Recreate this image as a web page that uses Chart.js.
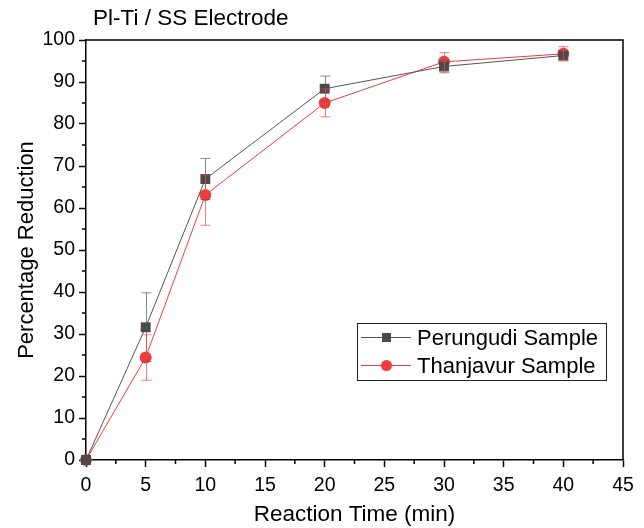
<!DOCTYPE html>
<html>
<head>
<meta charset="utf-8">
<script src="https://cdn.jsdelivr.net/npm/chart.js@4"></script>
<style>
  html, body { margin: 0; padding: 0; background: #fff; }
  #wrap { width: 644px; height: 528px; }
</style>
</head>
<body>
<div id="wrap"><canvas id="reductionChart" width="644" height="528"></canvas></div>
<script>
// data
const times = [0, 5, 10, 20, 30, 40];
const perungudi = [0, 31.6, 66.9, 88.4, 93.7, 96.3];
const perungudiErrUp = [0, 8.2, 4.9, 3.0, 1.5, 1.0];
const perungudiErrDown = [0, 8.2, 4.9, 3.0, 1.5, 1.0];
const thanjavur = [0, 24.4, 63.1, 85.0, 94.8, 96.7];
const thanjavurErrUp = [0, 5.4, 4.8, 3.3, 2.2, 1.7];
const thanjavurErrDown = [0, 5.4, 7.2, 3.3, 2.2, 1.7];
const seriesNames = ['Perungudi Sample', 'Thanjavur Sample'];
const xTicks = [0, 45, 5];   // min, max, step
const yTicks = [0, 100, 10];

const FONT = "'Liberation Sans', Arial, sans-serif";
const grayLine = '#555555', grayFill = '#4a4a4a', grayErr = 'rgba(90,90,90,0.7)';
const redLine = '#f03c3c', redFill = '#ef3b3b', redErr = 'rgba(238,70,70,0.7)';

const errors = [
    { up: perungudiErrUp, down: perungudiErrDown, color: grayErr },
    { up: thanjavurErrUp, down: thanjavurErrDown, color: redErr }
];

// error bars, frame, minor ticks, title, legend
const extras = {
    id: 'extras',
    afterDatasetsDraw(chart) {
        const ctx = chart.ctx, xs = chart.scales.x, ys = chart.scales.y;
        ctx.save();
        ctx.lineWidth = 1;
        errors.forEach((e, di) => {
            const vals = chart.data.datasets[di].data;
            ctx.strokeStyle = e.color;
            vals.forEach((p, i) => {
                if (!e.up[i] && !e.down[i]) return;
                const px = Math.round(xs.getPixelForValue(p.x)) + 0.5;
                const top = ys.getPixelForValue(p.y + e.up[i]);
                const bot = ys.getPixelForValue(p.y - e.down[i]);
                ctx.beginPath();
                ctx.moveTo(px, top); ctx.lineTo(px, bot);
                ctx.moveTo(px - 5, top); ctx.lineTo(px + 5, top);
                ctx.moveTo(px - 5, bot); ctx.lineTo(px + 5, bot);
                ctx.stroke();
            });
        });
        ctx.restore();
    },
    afterDraw(chart) {
        const ctx = chart.ctx, a = chart.chartArea, xs = chart.scales.x, ys = chart.scales.y;
        ctx.save();
        ctx.strokeStyle = '#000';
        ctx.lineWidth = 1.5;
        ctx.beginPath();
        ctx.moveTo(a.left, a.top); ctx.lineTo(a.right, a.top); ctx.lineTo(a.right, a.bottom);
        // minor ticks
        for (let v = xTicks[0] + xTicks[2] / 2; v < xTicks[1]; v += xTicks[2]) {
            const px = xs.getPixelForValue(v);
            ctx.moveTo(px, a.bottom); ctx.lineTo(px, a.bottom + 4);
        }
        for (let v = yTicks[0] + yTicks[2] / 2; v < yTicks[1]; v += yTicks[2]) {
            const py = ys.getPixelForValue(v);
            ctx.moveTo(a.left, py); ctx.lineTo(a.left - 4, py);
        }
        ctx.stroke();

        // title
        ctx.fillStyle = '#000';
        ctx.font = '22.5px ' + FONT;
        ctx.textBaseline = 'middle';
        ctx.textAlign = 'left';
        ctx.fillText('Pl-Ti / SS Electrode', 93, 19);

        // legend box
        const lx = 357, ly = 323, lw = 249, lh = 57;
        ctx.lineWidth = 1;
        ctx.strokeStyle = '#222';
        ctx.strokeRect(lx + 0.5, ly + 0.5, lw, lh);
        const rows = [
            { name: seriesNames[0], line: grayLine, fill: grayFill, shape: 'rect' },
            { name: seriesNames[1], line: redLine, fill: redFill, shape: 'circle' }
        ];
        rows.forEach((r, i) => {
            const cy = ly + 14.5 + i * 28;
            ctx.strokeStyle = r.line;
            ctx.lineWidth = 1;
            ctx.beginPath();
            ctx.moveTo(lx + 4, cy); ctx.lineTo(lx + 54, cy);
            ctx.stroke();
            ctx.fillStyle = r.fill;
            if (r.shape === 'rect') {
                ctx.fillRect(lx + 25, cy - 4.5, 9, 9);
            } else {
                ctx.beginPath();
                ctx.arc(lx + 29.5, cy, 5.5, 0, Math.PI * 2);
                ctx.fill();
            }
            ctx.fillStyle = '#000';
            ctx.font = '22px ' + FONT;
            ctx.fillText(r.name, lx + 60, cy + 1);
        });
        ctx.restore();
    }
};

function points(ys) {
    return times.map((t, i) => ({ x: t, y: ys[i] }));
}

new Chart(document.getElementById('reductionChart'), {
    type: 'line',
    data: {
        datasets: [{
            label: seriesNames[0],
            data: points(perungudi),
            borderColor: grayLine,
            borderWidth: 1,
            backgroundColor: grayFill,
            pointStyle: 'rect',
            pointRadius: 7,
            pointBorderWidth: 0,
            pointBackgroundColor: grayFill,
            clip: false,
            tension: 0
        }, {
            label: seriesNames[1],
            data: points(thanjavur),
            borderColor: redLine,
            borderWidth: 1,
            backgroundColor: redFill,
            pointStyle: 'circle',
            pointRadius: 6,
            pointBorderWidth: 0,
            pointBackgroundColor: redFill,
            clip: false,
            tension: 0
        }]
    },
    options: {
        responsive: false,
        animation: false,
        devicePixelRatio: 1,
        layout: { padding: { top: 40, right: 21, left: 0, bottom: 0 } },
        plugins: {
            legend: { display: false },
            tooltip: { enabled: false }
        },
        scales: {
            x: {
                type: 'linear',
                min: xTicks[0], max: xTicks[1],
                afterFit(scale) { scale.height = 68; },
                ticks: { stepSize: xTicks[2], color: '#000', font: { family: FONT, size: 19.5 }, padding: 7, maxRotation: 0 },
                grid: { drawOnChartArea: false, drawTicks: true, tickLength: 7, tickColor: '#000', tickWidth: 1.5 },
                border: { color: '#000', width: 1.5 },
                title: { display: true, text: 'Reaction Time (min)', color: '#000', font: { family: FONT, size: 22.5 }, padding: { top: 0, bottom: 0 } }
            },
            y: {
                min: yTicks[0], max: yTicks[1],
                afterFit(scale) { scale.width = 86; },
                ticks: { stepSize: yTicks[2], color: '#000', font: { family: FONT, size: 19.5 }, padding: 4 },
                grid: { drawOnChartArea: false, drawTicks: true, tickLength: 7, tickColor: '#000', tickWidth: 1.5 },
                border: { color: '#000', width: 1.5 },
                title: { display: true, text: 'Percentage Reduction', color: '#000', font: { family: FONT, size: 22 }, padding: { top: 14, bottom: 0 } }
            }
        }
    },
    plugins: [extras]
});
</script>
</body>
</html>
